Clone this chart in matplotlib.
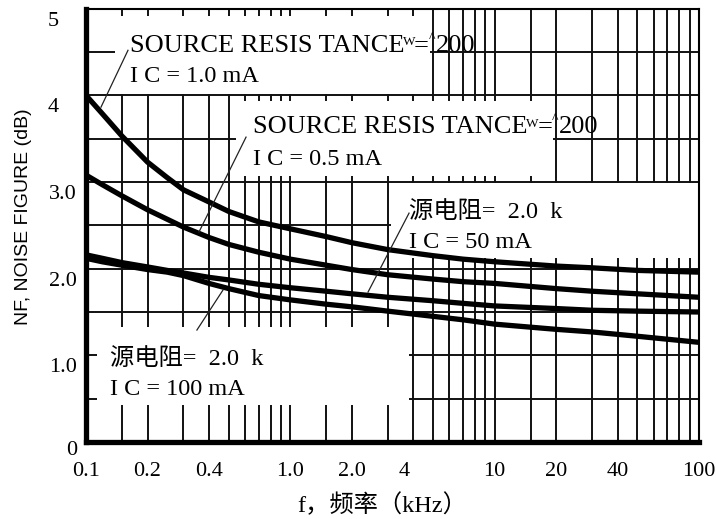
import matplotlib
matplotlib.use("Agg")
import matplotlib.pyplot as plt
from matplotlib.patches import Rectangle
from matplotlib.transforms import ScaledTranslation

# ---------------- data ----------------
freq_khz = [0.1, 0.12, 0.15, 0.2, 0.25, 0.3, 0.4, 0.5, 0.7, 1.0,
            1.5, 2, 3, 5, 7, 10, 20, 30, 50, 100]
nf_200_1mA = [4.00, 3.79, 3.53, 3.23, 3.05, 2.91, 2.77, 2.66, 2.54, 2.46,
              2.37, 2.30, 2.22, 2.15, 2.11, 2.08, 2.03, 2.01, 1.98, 1.96]
nf_200_05mA = [3.08, 2.97, 2.84, 2.68, 2.57, 2.48, 2.36, 2.28, 2.19, 2.11,
               2.04, 1.99, 1.93, 1.88, 1.85, 1.83, 1.77, 1.74, 1.71, 1.67]
nf_2k_50mA = [2.16, 2.12, 2.07, 2.02, 1.98, 1.95, 1.90, 1.87, 1.82, 1.78,
              1.74, 1.71, 1.67, 1.63, 1.60, 1.57, 1.54, 1.52, 1.51, 1.50]
nf_2k_100mA = [2.12, 2.08, 2.04, 1.99, 1.96, 1.92, 1.83, 1.77, 1.69, 1.64,
               1.59, 1.56, 1.51, 1.45, 1.41, 1.36, 1.30, 1.27, 1.22, 1.15]

x_major = [0.1, 0.2, 0.4, 1.0, 2.0, 4, 10, 20, 40, 100]
x_major_labels = ["0.1", "0.2", "0.4", "1.0", "2.0", "4", "10", "20", "40", "100"]
x_minor = [0.15, 0.3, 0.5, 0.6, 0.7, 0.8, 0.9, 1.5, 3, 5, 6, 7, 8, 9,
           15, 30, 50, 60, 70, 80, 90]
y_major = [0, 1, 2, 3, 4, 5]
y_major_labels = ["0", "1.0", "2.0", "3.0", "4", "5"]
y_minor = [0.5, 1.5, 2.5, 3.5, 4.5]

SERIF = "Liberation Serif"
MIX = ["Liberation Serif", "Noto Sans CJK SC"]

fig = plt.figure(figsize=(7.16, 5.19), dpi=100)
ax = fig.add_axes([86 / 716, 77 / 519, 613 / 716, 433.3 / 519])
ax.set_xscale("log")
ax.set_xlim(0.1, 100)
ax.set_ylim(0, 5)

ax.set_xticks(x_major)
ax.set_xticks(x_minor, minor=True)
ax.set_yticks(y_major)
ax.set_yticks(y_minor, minor=True)
ax.xaxis.set_minor_formatter(plt.NullFormatter())
ax.yaxis.set_minor_formatter(plt.NullFormatter())
ax.tick_params(which="both", length=0)
ax.tick_params(axis="x", pad=14.5)
ax.tick_params(axis="y", pad=6.5)
ax.set_xticklabels(x_major_labels, fontfamily=SERIF, fontsize=16)
ax.set_yticklabels(y_major_labels, fontfamily=SERIF, fontsize=16)

ax.set_axisbelow(True)
ax.grid(which="both", color="#111111", lw=1.4)

for s in ["left", "bottom"]:
    ax.spines[s].set_linewidth(3.8)
for s in ["top", "right"]:
    ax.spines[s].set_linewidth(1.5)

# white label boxes that interrupt the grid
boxes = [(0.1387, 4.83, 4.02, 4.92),
         (0.542, 19.2, 3.07, 3.94),
         (3.1, 100, 2.12, 2.985),
         (0.1132, 3.82, 0.43, 1.33)]
for x0, x1, y0, y1 in boxes:
    ax.add_patch(Rectangle((x0, y0), x1 - x0, y1 - y0, facecolor="white",
                           edgecolor="none", zorder=1))

for ys in [nf_200_1mA, nf_200_05mA, nf_2k_50mA, nf_2k_100mA]:
    ax.plot(freq_khz, ys, color="black", lw=3.8, solid_capstyle="butt",
            solid_joinstyle="round", zorder=3)

# leader lines
leaders = [((0.1605, 4.52), (0.1184, 3.864)),
           ((0.607, 3.518), (0.357, 2.422)),
           ((3.81, 2.641), (2.40, 1.730)),
           ((0.349, 1.292), (0.468, 1.753))]
for (xa, ya), (xb, yb) in leaders:
    ax.plot([xa, xb], [ya, yb], color="#222222", lw=0.9, zorder=3)

FS = 17.5
FS_SRC = 19


def source_label(x, y):
    t1 = ax.annotate("SOURCE RESIS TANCE", xy=(x, y), xycoords="data",
                     ha="left", va="baseline", fontfamily=SERIF,
                     fontsize=FS_SRC, zorder=4)
    tw = ax.annotate("W", xy=(1, 1), xycoords=t1, xytext=(-1, -1),
                     textcoords="offset points", ha="left", va="top",
                     fontfamily=SERIF, fontsize=9.5, zorder=4)
    te = ax.annotate("=", xy=(1, 0), xycoords=(tw, t1), xytext=(-1, 0),
                     textcoords="offset points", ha="left", va="bottom",
                     fontfamily=SERIF, fontsize=FS_SRC, zorder=4)
    th = ax.annotate("^", xy=(1, 1), xycoords=(te, t1), xytext=(0, 2),
                     textcoords="offset points", ha="left", va="top",
                     fontfamily=SERIF, fontsize=10, zorder=4)
    ax.annotate("200", xy=(1, 0), xycoords=(th, t1), xytext=(0, 0),
                textcoords="offset points", ha="left", va="bottom",
                fontfamily=SERIF, fontsize=FS_SRC, zorder=4)


source_label(0.164, 4.50)
ax.annotate("I C = 1.0 mA", xy=(0.164, 4.152), ha="left", va="baseline",
            fontfamily=SERIF, fontsize=FS, zorder=4)
source_label(0.657, 3.564)
ax.annotate("I C = 0.5 mA", xy=(0.657, 3.195), ha="left", va="baseline",
            fontfamily=SERIF, fontsize=FS, zorder=4)
ax.annotate("源电阻=  2.0  k", xy=(3.82, 2.584), ha="left", va="baseline",
            fontfamily=MIX, fontsize=FS, zorder=4)
ax.annotate("I C = 50 mA", xy=(3.82, 2.238), ha="left", va="baseline",
            fontfamily=SERIF, fontsize=FS, zorder=4)
ax.annotate("源电阻=  2.0  k", xy=(0.131, 0.888), ha="left", va="baseline",
            fontfamily=MIX, fontsize=FS, zorder=4)
ax.annotate("I C = 100 mA", xy=(0.131, 0.542), ha="left", va="baseline",
            fontfamily=SERIF, fontsize=FS, zorder=4)

ax.set_xlabel("f，频率（kHz）", fontfamily=MIX, fontsize=17.5)
ax.xaxis.set_label_coords(0.484, -0.118)
ax.set_ylabel("NF, NOISE FIGURE (dB)",
              fontfamily=["Liberation Sans Narrow", "Liberation Sans"],
              fontsize=14)
ax.yaxis.set_label_coords(-0.088, 0.519)

# tick label quirks of the original scan
for lbl in ax.get_yticklabels():
    dy = -6 if lbl.get_text() == "0" else -10
    tr = lbl.get_transform() + ScaledTranslation(0, dy / 100, fig.dpi_scale_trans)
    if lbl.get_text() in ("4", "5"):
        lbl.set_ha("left")
        tr = tr + ScaledTranslation(-29 / 100, 0, fig.dpi_scale_trans)
    lbl.set_transform(tr)
for lbl in ax.get_xticklabels():
    if lbl.get_text() == "4":
        lbl.set_transform(lbl.get_transform() +
                          ScaledTranslation(-9 / 100, 0, fig.dpi_scale_trans))

fig.savefig("out.png", dpi=100, facecolor="white")
